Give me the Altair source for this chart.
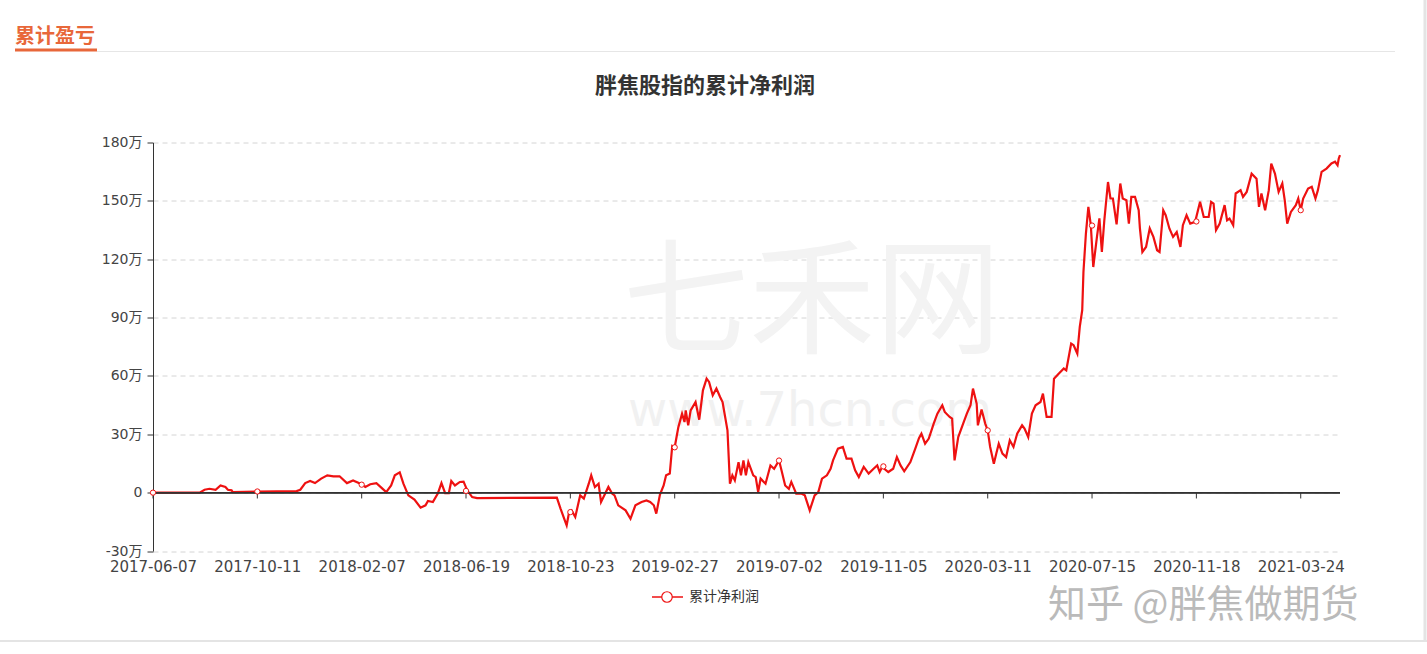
import altair as alt
import pandas as pd

# ---------------- data (values in 万) ----------------
day_index = [0, 38, 42, 46, 51, 55, 59, 61, 64, 65, 85, 117, 120, 124, 128, 132, 137, 142, 147, 152,
             158, 163, 169, 173, 177, 182, 186, 190, 194, 197, 201, 204, 208, 213, 218, 222, 224, 228,
             232, 235, 238, 241, 243, 246, 250, 253, 256, 260, 264, 329, 332, 336, 337, 339, 341, 344,
             348, 351, 355, 357, 360, 363, 365, 367, 371, 374, 376, 379, 385, 389, 393, 398, 402, 405,
             408, 410, 413, 416, 418, 421, 423, 425, 428, 431, 433, 434, 436, 438, 442, 445, 448, 451,
             453, 456, 459, 462, 464, 468, 470, 472, 474, 477, 479, 481, 483, 485, 489, 491, 493, 495,
             499, 503, 506, 510, 512, 515, 518, 520, 524, 528, 531, 535, 539, 542, 545, 549, 552, 554,
             558, 562, 565, 569, 572, 575, 579, 583, 587, 590, 592, 594, 599, 603, 606, 609, 612, 617,
             621, 624, 626, 629, 632, 636, 639, 643, 645, 649, 651, 653, 656, 660, 663, 666, 668, 671,
             672, 675, 678, 680, 682, 685, 687, 689, 692, 695, 698, 701, 704, 708, 710, 713, 716, 719,
             723, 725, 728, 732, 734, 738, 742, 744, 748, 750, 753, 755, 757, 758, 760, 762, 764, 766,
             769, 771, 773, 775, 778, 780, 782, 785, 788, 790, 793, 795, 797, 800, 803, 804, 806, 809,
             812, 815, 818, 820, 823, 825, 828, 831, 834, 837, 839, 842, 845, 849, 853, 856, 860, 862,
             864, 866, 869, 873, 875, 877, 880, 882, 886, 888, 891, 895, 899, 901, 903, 906, 909, 911,
             914, 917, 920, 922, 924, 927, 931, 933, 935, 937, 941, 944, 947, 949, 952, 956, 960, 963,
             965, 966, 967]

net_profit_wan = [0, 0, 1.5, 2, 1.5, 3.7, 2.9, 1.5, 1.2, 0.3, 0.5, 0.8, 1.5, 4.9, 6, 4.9, 7.2, 8.9, 8.4, 8.4,
                  4.9, 6.3, 4.6, 2.9, 4.3, 4.9, 2.6, 0.3, 3.7, 8.9, 10.4, 4.6, -1.4, -3.6, -7.7, -6.5, -4.3, -4.8,
                  -0.5, 4.9, -0.2, -0.2, 6, 3.7, 5.5, 5.7, 1.2, -2.3, -2.8, -2.6, -8.2, -15.1, -16.8, -10, -9.1, -12.5,
                  -1.4, -3.1, 4.6, 8.9, 2.9, 4.6, -4.8, -2.3, 2.9, -0.5, -1.4, -6.5, -9.1, -13.4, -6.5, -4.8, -4, -4.8,
                  -6.5, -10.8, -1, 3.7, 8.9, 9.8, 24, 23.3, 33.7, 40.6, 36.3, 42.3, 34.6, 42.3, 46.6, 37.5, 52.6, 58.6,
                  56.9, 50, 53.5, 49.2, 46.6, 32, 4.6, 8.9, 6.3, 15.7, 8.9, 16.6, 8.9, 15.7, 8.9, 8, 0.3, 7.2,
                  4.6, 14, 12.3, 16.6, 11.5, 3.7, 2, 5.5, -0.5, -0.5, -1.4, -9.1, -1.4, 0.3, 7.2, 8.9, 12.3, 16.6,
                  22.6, 23.5, 17.5, 17.5, 11.5, 8, 13.2, 9.8, 12.3, 14, 10.6, 13.2, 10.6, 12.3, 18.3, 14, 11, 15.7,
                  22.6, 28, 30.3, 25.2, 27.8, 35.5, 40.6, 44.9, 41.5, 38.9, 38.1, 16.6, 28.6, 35.5, 40.6, 44.9, 53.5, 45.8,
                  34.6, 42.7, 35.5, 32, 23.5, 14.9, 20.1, 25.2, 20.1, 18.3, 26.9, 23.5, 30.3, 34.6, 32.9, 28.6, 40.6, 44.9,
                  46.6, 50.9, 38.9, 38.9, 58.6, 61.2, 63.8, 62.9, 76.6, 75.8, 71.5, 85.2, 93.8, 113.5, 133.2, 146.9, 137.5, 116,
                  131.5, 141, 123.7, 140, 159.7, 151.2, 151.2, 137.9, 158.9, 151.2, 150.3, 138.3, 152, 152, 145.2, 135.8, 123.7, 126.3,
                  135.8, 131.5, 124.6, 123.7, 145.2, 142.6, 135.8, 131.5, 134, 126.3, 137.5, 142.6, 138.3, 139.2, 149.5, 141.7, 141.7, 149.5,
                  148.6, 134.9, 138.3, 147.8, 140, 140.9, 137.5, 153.8, 155.5, 152, 154.6, 164, 161.4, 146.9, 153.8, 145.2, 155.5, 169.2,
                  164, 154.6, 158.9, 150.3, 138.3, 144.3, 147.8, 151.2, 145.2, 151.2, 156.3, 157.2, 151.2, 155.5, 164.9, 166.6, 169.2, 170.1,
                  168.3, 171.8, 173.5]

tick_index = [0, 85, 170, 255, 340, 425, 510, 595, 680, 765, 850, 935]
tick_labels = ["2017-06-07", "2017-10-11", "2018-02-07", "2018-06-19", "2018-10-23", "2019-02-27",
               "2019-07-02", "2019-11-05", "2020-03-11", "2020-07-15", "2020-11-18", "2021-03-24"]
marker_wan = [0, 0.6, 4.1, 0.9, -10, 23.3, 16.5, 13.5, 32, 137.3, 139.4, 145.2]
y_ticks = [-30, 0, 30, 60, 90, 120, 150, 180]

series_name = "累计净利润"
chart_title = "胖焦股指的累计净利润"
section_title = "累计盈亏"

line_df = pd.DataFrame({"i": day_index, "v": net_profit_wan})
mark_df = pd.DataFrame({"i": tick_index, "v": marker_wan})
tick_df = pd.DataFrame({"i": tick_index, "v": [0] * len(tick_index), "v2": [-3] * len(tick_index)})
one = pd.DataFrame({"a": [0]})

# ---------------- layout ----------------
OX, OY = 153, 142.5
W, H = 1187, 408.5
RED = "#ee1111"
FONT = "DejaVu Sans, Noto Sans CJK SC, sans-serif"
CJK = "Noto Sans CJK SC"

label_expr = ("[" + ",".join(f"'{t}'" for t in tick_labels) + "][indexof(["
              + ",".join(str(i) for i in tick_index) + "], datum.value)]")

x_scale = alt.Scale(domain=[0, day_index[-1]], nice=False, zero=False)
y_scale = alt.Scale(domain=[-30, 180], nice=False, zero=False)

x_axis = alt.Axis(values=tick_index, labelExpr=label_expr, domain=False, ticks=False, grid=False,
                  labelFont=FONT, labelFontSize=15, labelColor="#444", labelPadding=8,
                  labelOverlap=False, labelFlush=False, title=None)
y_axis = alt.Axis(values=y_ticks, labelExpr="datum.value == 0 ? '0' : datum.value + '万'",
                  domainColor="#333", tickColor="#333", tickSize=6, gridColor="#d4d4d4",
                  gridDash=[5, 4], labelFont=FONT, labelFontSize=14, labelColor="#444",
                  labelPadding=5, title=None)


def X():
    return alt.X("i:Q", scale=x_scale, axis=x_axis)


def Y(field="v"):
    return alt.Y(f"{field}:Q", scale=y_scale, axis=y_axis)


base_line = alt.Chart(line_df).mark_line(color=RED, strokeWidth=2.2).encode(x=X(), y=Y())

zero_rule = alt.Chart(tick_df).mark_rule(color="#333", strokeWidth=1).encode(
    x=alt.value(0), x2=alt.value(W), y=Y())

zero_ticks = alt.Chart(tick_df).mark_rule(color="#333", strokeWidth=1).encode(
    x=X(), y=Y(), y2="v2:Q")

markers = alt.Chart(mark_df).mark_point(shape="circle", filled=True, fill="white", stroke=RED,
                                        strokeWidth=1, size=28, opacity=1).encode(x=X(), y=Y())


def text(s, x, y, size, color, weight="normal", font=CJK, align="left", baseline="middle"):
    return alt.Chart(one).mark_text(fontSize=size, fontWeight=weight, font=font, color=color,
                                    align=align, baseline=baseline).encode(
        x=alt.value(x - OX), y=alt.value(y - OY), text=alt.value(s))


def hrule(x1, x2, y, color, width):
    return alt.Chart(one).mark_rule(color=color, strokeWidth=width).encode(
        x=alt.value(x1 - OX), x2=alt.value(x2 - OX), y=alt.value(y - OY))


def vrule(x, y1, y2, color, width):
    return alt.Chart(one).mark_rule(color=color, strokeWidth=width).encode(
        x=alt.value(x - OX), y=alt.value(y1 - OY), y2=alt.value(y2 - OY))


# watermarks (behind)
wm1 = text("七禾网", 812, 306, 126, "#f3f3f3", align="center", font=CJK)
wm2 = text("www.7hcn.com", 810, 412, 48, "#f1f1f1", align="center", font="DejaVu Sans")

header = text(section_title, 15, 37, 20, "#e8673a", weight="bold")
header_line = hrule(97, 1395, 51.5, "#e6e6e6", 1)
header_under = hrule(15, 97, 50, "#e8673a", 3)
title = text(chart_title, 705, 86, 22, "#333", weight="bold", align="center")

legend_line = hrule(652, 683, 597, RED, 1.5)
legend_pt = alt.Chart(one).mark_point(shape="circle", filled=True, fill="white", stroke=RED,
                                      strokeWidth=1.2, size=110, opacity=1).encode(
    x=alt.value(667 - OX), y=alt.value(597 - OY))
legend_txt = text(series_name, 689, 597, 14, "#333")

zhihu = text("知乎 @胖焦做期货", 1048, 606, 38, "#bababa")

border_r = vrule(1425, 0, 641, "#e4e4e4", 3)
border_b = hrule(0, 1427, 641, "#e4e4e4", 2)

chart = alt.layer(
    wm1, wm2, base_line, zero_rule, zero_ticks, markers,
    header, header_line, header_under, title, legend_line, legend_pt, legend_txt, zhihu,
    border_r, border_b,
).properties(
    width=W, height=H,
    autosize=alt.AutoSizeParams(type="none"),
    padding={"left": OX, "top": OY, "right": 1427 - OX - W, "bottom": 654 - OY - H},
    background="white",
).configure_view(stroke=None)

chart.save("out.html", embed_options={"renderer": "svg", "actions": False})
